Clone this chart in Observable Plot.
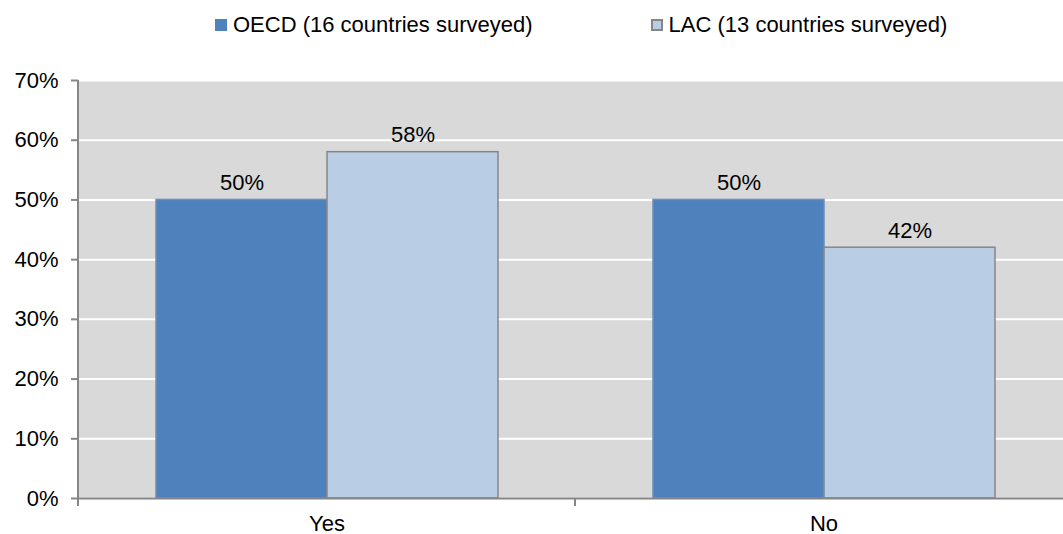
<!DOCTYPE html>
<html>
<head>
<meta charset="utf-8">
<script src="https://cdn.jsdelivr.net/npm/d3@7"></script>
<script src="https://cdn.jsdelivr.net/npm/@observablehq/plot@0.6"></script>
<style>
  html, body { margin: 0; padding: 0; background: #fff; overflow: hidden; }
  body { font-family: "Liberation Sans", Arial, sans-serif; width: 1063px; height: 534px; }
  #legend { height: 50px; display: flex; align-items: center; padding-left: 215px; box-sizing: border-box; font-size: 22px; color: #000; white-space: nowrap; }
  .item { display: flex; align-items: center; margin-right: 118px; flex-shrink: 0; }
  .sw { width: 12px; height: 12px; margin-right: 6px; box-sizing: border-box; flex-shrink: 0; }
  #chart svg { display: block; max-width: none; overflow: visible; }
</style>
</head>
<body>
<div id="legend"></div>
<div id="chart"></div>
<script>
// Survey answers and the share of countries giving each answer
const answers = ["Yes", "No"];
const groups = ["OECD", "LAC"];
const groupLabels = ["OECD (16 countries surveyed)", "LAC (13 countries surveyed)"];
const oecdShares = [0.50, 0.50];
const lacShares = [0.58, 0.42];
const yTicks = [0, 0.1, 0.2, 0.3, 0.4, 0.5, 0.6, 0.7];

const groupFill = {OECD: "#4f81bd", LAC: "#b9cde5"};
const groupStroke = {OECD: "#6f8fb8", LAC: "#868686"};

const rows = [];
answers.forEach((a, i) => {
  rows.push({answer: a, group: "OECD", value: oecdShares[i]});
  rows.push({answer: a, group: "LAC", value: lacShares[i]});
});

// Legend
const legend = d3.select("#legend");
groups.forEach((g, i) => {
  const it = legend.append("div").attr("class", "item");
  it.append("div").attr("class", "sw")
    .style("background", groupFill[g])
    .style("border", g === "LAC" ? "2px solid #868686" : "none");
  it.append("span").text(groupLabels[i]);
});

const font = "Liberation Sans, Arial, sans-serif";
const pct = d3.format(".0%");

const plot = Plot.plot({
  width: 1072,
  height: 484,
  marginTop: 30,
  marginLeft: 78,
  marginRight: 0,
  marginBottom: 36,
  style: {fontFamily: font, fontSize: "22px", color: "#000", background: "transparent", overflow: "visible"},
  fx: {domain: answers, padding: 0, round: false},
  x: {domain: groups, paddingInner: 0, paddingOuter: 0.453, axis: null},
  y: {domain: [0, 0.7]},
  marks: [
    Plot.frame({fill: "#d9d9d9", shapeRendering: "crispEdges"}),
    Plot.gridY(yTicks, {stroke: "#fff", strokeOpacity: 1, strokeWidth: 2}),
    Plot.barY(rows, {
      fx: "answer", x: "group", y: "value",
      fill: d => groupFill[d.group],
      stroke: d => groupStroke[d.group],
      strokeWidth: 1.5
    }),
    Plot.ruleY([0], {stroke: "#868686", strokeWidth: 2}),
    Plot.text(rows, {
      fx: "answer", x: "group", y: "value",
      text: d => pct(d.value),
      lineAnchor: "bottom", dy: -10,
      fontSize: 22, fill: "#000"
    }),
    Plot.axisY(yTicks, {
      tickFormat: pct, tickSize: 7, tickPadding: 13, label: null,
      stroke: "#868686", strokeWidth: 2, fontSize: 22, fill: "#000"
    }),
    Plot.axisFx({anchor: "bottom", tickSize: 0, tickPadding: 17, fontSize: 22, fill: "#000", label: null})
  ]
});

document.getElementById("chart").appendChild(plot);
plot.style.maxWidth = "none";

// Left axis line and category divider ticks, placed from the plot's own scales
const fx = plot.scale("fx");
const y = plot.scale("y");
const svg = d3.select(plot);
const y0 = y.apply(0);
const edges = [fx.apply(answers[0])].concat(answers.map(a => fx.apply(a) + fx.bandwidth));
const g = svg.append("g").attr("stroke", "#868686").attr("stroke-width", 2);
g.append("line")
  .attr("x1", edges[0]).attr("x2", edges[0])
  .attr("y1", y.apply(0.7)).attr("y2", y0 + 8);
edges.slice(1).forEach(e => {
  g.append("line").attr("x1", e).attr("x2", e).attr("y1", y0).attr("y2", y0 + 8);
});
</script>
</body>
</html>
